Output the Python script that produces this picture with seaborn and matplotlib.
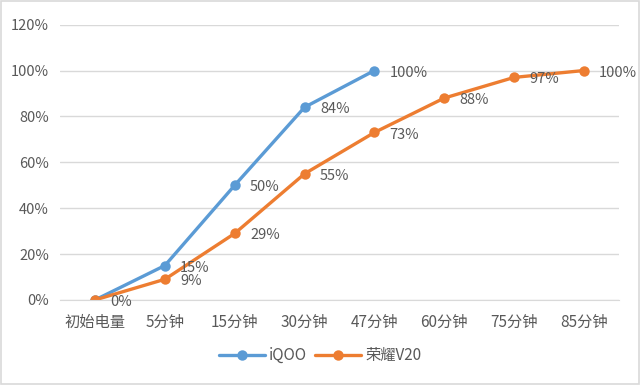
import matplotlib
matplotlib.use("Agg")
import matplotlib.pyplot as plt
import seaborn as sns
import pandas as pd
from matplotlib.patches import Rectangle
from matplotlib.ticker import FuncFormatter

categories = ["初始电量", "5分钟", "15分钟", "30分钟", "47分钟", "60分钟", "75分钟", "85分钟"]
iqoo = [0, 15, 50, 84, 100]
honor = [0, 9, 29, 55, 73, 88, 97, 100]
series_names = ["iQOO", "荣耀V20"]
colors = ["#5B9BD5", "#ED7D31"]

sns.set_style("white")
plt.rcParams['font.family'] = ['Noto Sans CJK SC', 'DejaVu Sans']

rows = []
for name, vals in zip(series_names, [iqoo, honor]):
    for c, v in zip(categories, vals):
        rows.append({"cat": c, "val": v / 100, "series": name})
df = pd.DataFrame(rows)
df["pos"] = df["cat"].map({c: i for i, c in enumerate(categories)})

fig = plt.figure(figsize=(6.4, 3.85), dpi=100)
ax = fig.add_axes([0.094, 0.221, 0.873, 0.715])

sns.lineplot(data=df, x="pos", y="val", hue="series", palette=colors,
             hue_order=series_names, marker="o", markersize=7.5,
             markeredgewidth=0, linewidth=2.4, ax=ax, sort=False)

txtc = "#595959"
for k, (name, vals, col) in enumerate(zip(series_names, [iqoo, honor], colors)):
    for i, v in enumerate(vals):
        if k == 0 and i == 0:
            continue  # coincides with the other series' label
        ax.annotate(f"{v}%", (i, v / 100), xytext=(11, -1.5), textcoords="offset points",
                    va="center", ha="left", fontsize=10.5, color=txtc)

ax.set_xlim(-0.5, len(categories) - 0.5)
ax.set_ylim(0, 1.2)
ax.set_yticks([i * 0.2 for i in range(7)])
ax.yaxis.set_major_formatter(FuncFormatter(lambda y, _: f"{round(y*100)}%"))
ax.set_xticks(range(len(categories)))
ax.set_xticklabels(categories)
ax.tick_params(axis="y", labelsize=10.5, colors=txtc, length=0, pad=8)
ax.tick_params(axis="x", labelsize=11, colors=txtc, length=0, pad=10)
ax.grid(axis="y", color="#D9D9D9", linewidth=1)
ax.set_axisbelow(True)
for s in ["top", "right", "left"]:
    ax.spines[s].set_visible(False)
ax.spines["bottom"].set_color("#D9D9D9")
ax.set_xlabel("")
ax.set_ylabel("")

handles, labels = ax.get_legend_handles_labels()
ax.legend(handles, labels, loc="center", bbox_to_anchor=(0.5, 0.077),
          bbox_transform=fig.transFigure, ncol=2, frameon=False, fontsize=11,
          handlelength=3, columnspacing=0.5, handletextpad=0.3, labelcolor=txtc)

fig.patches.append(Rectangle((0.002, 0.003), 0.996, 0.994, transform=fig.transFigure,
                             fill=False, edgecolor="#D9D9D9", linewidth=1.2))

fig.savefig("out.png", dpi=100)
